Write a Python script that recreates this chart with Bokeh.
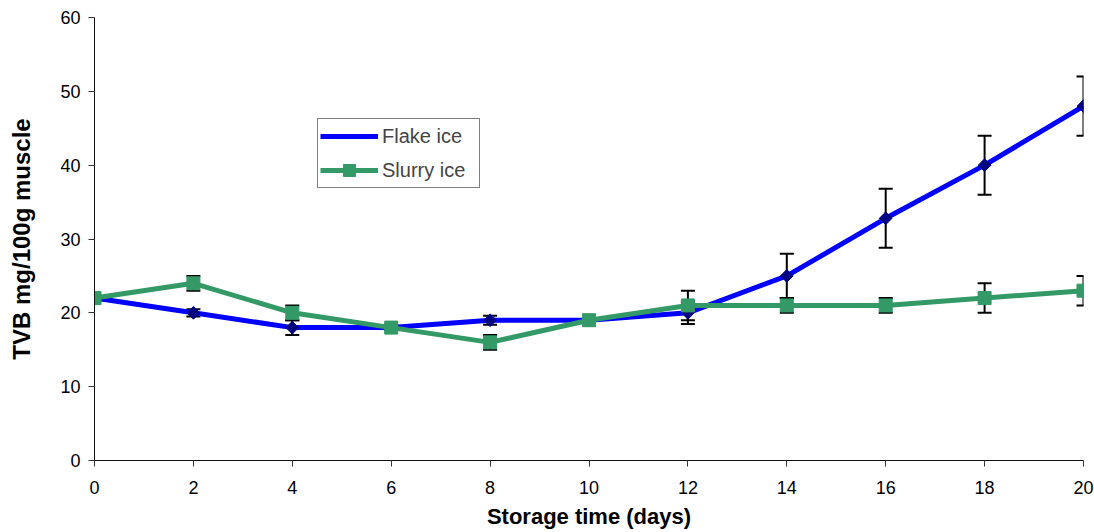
import math
from bokeh.plotting import figure
from bokeh.models import ColumnDataSource, Whisker, TeeHead, Legend, LegendItem, FixedTicker, Range1d
from bokeh.embed import file_html
from bokeh.resources import INLINE

# Storage time (days)
days = [0, 2, 4, 6, 8, 10, 12, 14, 16, 18, 20]

# TVB (mg/100g muscle) and standard deviation per treatment
flake_tvb = [22, 20, 18, 18, 19, 19, 20, 25, 32.8, 40, 48]
flake_sd = [0.3, 0.5, 1, 0.3, 0.6, 0.3, 1.5, 3, 4, 4, 4]
slurry_tvb = [22, 24, 20, 18, 16, 19, 21, 21, 21, 22, 23]
slurry_sd = [0.3, 1, 1, 0.3, 1, 0.3, 2, 1, 1, 2, 2]

x_ticks = [0, 2, 4, 6, 8, 10, 12, 14, 16, 18, 20]
y_ticks = [0, 10, 20, 30, 40, 50, 60]

FONT = "Liberation Sans"
BLUE, NAVY, GREEN = "#0000FF", "#000080", "#339966"

p = figure(width=1094, height=532, output_backend="svg", toolbar_location=None,
           x_range=Range1d(0, 20), y_range=Range1d(0, 60),
           min_border_left=94, min_border_right=11, min_border_top=17, min_border_bottom=72)
p.outline_line_color = None
p.xgrid.visible = False
p.ygrid.visible = False

for ax in (p.xaxis[0], p.yaxis[0]):
    ax.axis_line_color = "#111111"
    ax.axis_line_width = 1
    ax.major_tick_line_color = "#333333"
    ax.major_tick_in = 0
    ax.major_tick_out = 6
    ax.minor_tick_line_color = None
    ax.major_label_text_font = FONT
    ax.major_label_text_font_size = "18px"
    ax.major_label_text_color = "#000000"
    ax.axis_label_text_font = FONT
    ax.axis_label_text_font_style = "bold"
    ax.axis_label_text_color = "#000000"

p.xaxis.ticker = FixedTicker(ticks=x_ticks)
p.yaxis.ticker = FixedTicker(ticks=y_ticks)
p.xaxis.axis_label = "Storage time (days)"
p.yaxis.axis_label = "TVB mg/100g muscle"
p.xaxis.axis_label_text_font_size = "22px"
p.yaxis.axis_label_text_font_size = "24px"
p.xaxis.major_label_standoff = 14
p.xaxis.axis_label_standoff = 7
p.yaxis.major_label_standoff = 8
p.yaxis.axis_label_standoff = 22

flake_src = ColumnDataSource(dict(x=days, y=flake_tvb,
                                  lo=[v - e for v, e in zip(flake_tvb, flake_sd)],
                                  hi=[v + e for v, e in zip(flake_tvb, flake_sd)]))
slurry_src = ColumnDataSource(dict(x=days, y=slurry_tvb,
                                   lo=[v - e for v, e in zip(slurry_tvb, slurry_sd)],
                                   hi=[v + e for v, e in zip(slurry_tvb, slurry_sd)]))

# error bars beneath the series
for src in (flake_src, slurry_src):
    w = Whisker(source=src, base="x", lower="lo", upper="hi", level="underlay",
                line_color="black", line_width=2,
                upper_head=TeeHead(size=14, line_color="black", line_width=2),
                lower_head=TeeHead(size=14, line_color="black", line_width=2))
    p.add_layout(w)

fl = p.line("x", "y", source=flake_src, line_color=BLUE, line_width=5)
p.scatter("x", "y", source=flake_src, marker="square", angle=math.pi / 4,
          size=9, fill_color=NAVY, line_color=NAVY)
sl = p.line("x", "y", source=slurry_src, line_color=GREEN, line_width=5)
sm = p.scatter("x", "y", source=slurry_src, marker="square", size=13,
               fill_color=GREEN, line_color=GREEN)

# diamond key for the legend (no data of its own)
key_src = ColumnDataSource(dict(x=[], y=[]))
fk = p.scatter("x", "y", source=key_src, marker="diamond", size=15,
               fill_color=NAVY, line_color=NAVY)

legend = Legend(items=[LegendItem(label="Flake ice", renderers=[fl, fk]),
                       LegendItem(label="Slurry ice", renderers=[sl, sm])],
                location=(223, 272), orientation="vertical",
                border_line_color="black", border_line_width=1,
                background_fill_alpha=1.0,
                label_text_font=FONT, label_text_font_size="20px",
                glyph_width=58, glyph_height=30, label_height=30, label_width=95,
                label_standoff=4, spacing=4, padding=2, margin=0)
p.add_layout(legend, "center")

open("out.html", "w").write(file_html(p, INLINE))
